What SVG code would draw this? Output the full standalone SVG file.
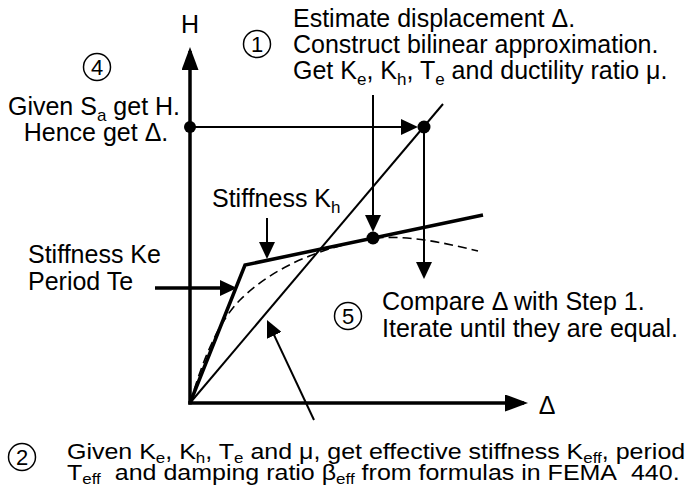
<svg xmlns="http://www.w3.org/2000/svg" width="699" height="488" viewBox="0 0 699 488">
<style>
text{font-family:"Liberation Sans",Arial,sans-serif;font-size:25px;fill:#000}
.sub{font-size:17px}
.num{font-size:22px;text-anchor:middle}
.ring{fill:none;stroke:#000;stroke-width:1.5}
.axis{stroke:#000;stroke-width:3.5;fill:none}
.thin{stroke:#000;stroke-width:2;fill:none}
.thick{stroke:#000;stroke-width:3.5;fill:none;stroke-linejoin:miter}
.dash{stroke:#000;stroke-width:1.6;fill:none;stroke-dasharray:9,5}
</style>
<defs>
<marker id="ah" markerUnits="userSpaceOnUse" viewBox="0 0 17 16" markerWidth="17" markerHeight="16" refX="13" refY="8" orient="auto">
<path d="M0,0 L17,8 L0,16 z" fill="#000"/>
</marker>
<marker id="ahBig" markerUnits="userSpaceOnUse" viewBox="0 0 23 17" markerWidth="23" markerHeight="17" refX="19" refY="8.5" orient="auto">
<path d="M0,0 L23,8.5 L0,17 z" fill="#000"/>
</marker>
</defs>

<g id="axes">
<line class="axis" x1="190" y1="404.5" x2="190" y2="51" marker-end="url(#ahBig)"/>
<line class="axis" x1="188.3" y1="403" x2="524" y2="403" marker-end="url(#ahBig)"/>
<text x="190" y="33" text-anchor="middle">H</text>
<text x="547" y="414" text-anchor="middle">Δ</text>
</g>

<g id="curves">
<path class="dash" d="M190,403 C200,370 215,325 240,300 C262,278 300,252 373,238 C410,235 445,243 478,251"/>
<polyline class="thick" points="190,403 245,265 483,215"/>
<line class="thin" x1="190" y1="403" x2="443" y2="104"/>
</g>

<g id="connectors">
<line class="thin" x1="190" y1="127" x2="414" y2="127" marker-end="url(#ah)"/>
<line class="thin" x1="424" y1="127" x2="424" y2="275" marker-end="url(#ah)"/>
<line class="thin" x1="373" y1="95" x2="373" y2="228" marker-end="url(#ah)"/>
<line class="thin" x1="267" y1="218" x2="267" y2="255" marker-end="url(#ah)"/>
<line class="thick" x1="155" y1="288" x2="233" y2="288" marker-end="url(#ah)"/>
<line class="thin" x1="314" y1="420" x2="268.7" y2="323.6" marker-end="url(#ah)"/>
</g>

<g id="points">
<circle cx="190" cy="127" r="6"/>
<circle cx="424" cy="127" r="6.5"/>
<circle cx="373" cy="238" r="6.5"/>
</g>

<g id="step1">
<circle class="ring" cx="257" cy="44" r="13.5"/>
<text class="num" x="257" y="52">1</text>
<text x="293" y="27">Estimate displacement Δ.</text>
<text x="293" y="53">Construct bilinear approximation.</text>
<text x="293" y="79">Get K<tspan class="sub" dy="6">e</tspan><tspan dy="-6">, K</tspan><tspan class="sub" dy="6">h</tspan><tspan dy="-6">, T</tspan><tspan class="sub" dy="6">e</tspan><tspan dy="-6"> and ductility ratio μ.</tspan></text>
</g>

<g id="step4">
<circle class="ring" cx="97" cy="67" r="13.5"/>
<text class="num" x="97" y="75">4</text>
<text x="94" y="115" text-anchor="middle">Given S<tspan class="sub" dy="6">a</tspan><tspan dy="-6"> get H.</tspan></text>
<text x="96" y="141" text-anchor="middle">Hence get Δ.</text>
</g>

<g id="stiffness-kh">
<text x="212" y="207">Stiffness K<tspan class="sub" dy="6">h</tspan></text>
</g>

<g id="stiffness-ke">
<text x="28" y="263">Stiffness Ke</text>
<text x="28" y="290">Period Te</text>
</g>

<g id="step5">
<circle class="ring" cx="348" cy="316" r="13.5"/>
<text class="num" x="348" y="324">5</text>
<text x="382" y="310">Compare Δ with Step 1.</text>
<text x="382" y="337">Iterate until they are equal.</text>
</g>

<g id="step2">
<circle class="ring" cx="22" cy="457" r="13.5"/>
<text class="num" x="22" y="465">2</text>
<text transform="translate(67,459) scale(1,0.86)" x="0" y="0">Given K<tspan class="sub" dy="5">e</tspan><tspan dy="-5">, K</tspan><tspan class="sub" dy="5">h</tspan><tspan dy="-5">, T</tspan><tspan class="sub" dy="5">e</tspan><tspan dy="-5"> and μ, get effective stiffness K</tspan><tspan class="sub" dy="5">eff</tspan><tspan dy="-5">, period</tspan></text>
<text transform="translate(67,480) scale(1,0.86)" x="0" y="0">T<tspan class="sub" dy="5">eff</tspan><tspan dx="7" dy="-5"> and damping ratio β</tspan><tspan class="sub" dy="5">eff</tspan><tspan dy="-5"> from formulas in FEMA</tspan><tspan dx="7"> 440.</tspan></text>
</g>
</svg>
